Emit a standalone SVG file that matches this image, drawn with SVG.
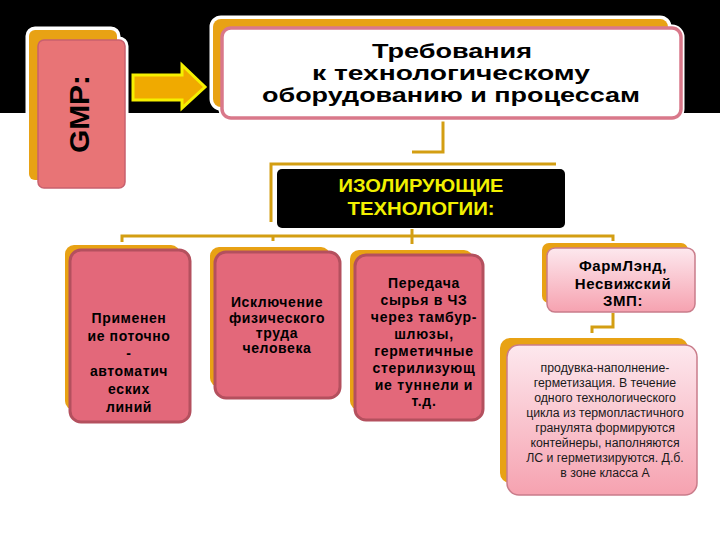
<svg xmlns="http://www.w3.org/2000/svg" width="720" height="540" viewBox="0 0 720 540">
<defs>
<linearGradient id="lp" x1="0" y1="0" x2="0" y2="1">
<stop offset="0" stop-color="#fde8ee"/>
<stop offset="1" stop-color="#f6a2b0"/>
</linearGradient>
<style>
.bk{fill:#e8a214}
.wh{fill:#fff;stroke:#fff;stroke-width:7}
.pk{fill:#e3687a;stroke:#b4505e;stroke-width:3}
.lt{fill:url(#lp);stroke:#c97c8a;stroke-width:1.5}
.t{font-family:"Liberation Sans",Arial,sans-serif;font-weight:bold;fill:#000;text-anchor:middle}
.s{font-family:"Liberation Sans",Arial,sans-serif;fill:#1a1a1a;text-anchor:middle;font-size:12.3px}
.cn{fill:none;stroke:#d39e12;stroke-width:3}
</style>
</defs>
<rect x="0" y="0" width="720" height="540" fill="#fff"/>
<rect x="0" y="0" width="720" height="113" fill="#000"/>

<g id="connectors">
<path class="cn" d="M443,118 V152 H412"/>
<path class="cn" d="M271,222 V164 H556"/>
<path class="cn" d="M122,242 V236 H613 V241"/>
<path class="cn" d="M412,229 V244"/>
<path class="cn" d="M273,236 V241"/>
<path class="cn" d="M613,313 V327 H592 V333"/>
</g>

<g id="gmp">
<rect class="wh" x="29" y="30" width="88" height="150" rx="6"/>
<rect class="wh" x="38" y="40" width="87" height="148" rx="6"/>
<rect class="bk" x="29" y="30" width="88" height="150" rx="6"/>
<rect x="38" y="40" width="87" height="148" rx="6" fill="#e87476" stroke="#c8606e" stroke-width="1.5"/>
<text class="t" transform="translate(89,114) rotate(-90)" font-size="27" textLength="78" lengthAdjust="spacingAndGlyphs">GMP:</text>
</g>

<g id="arrow">
<path d="M133,75 H182 V65 L205,87 L182,108 V100 H133 Z" fill="#f0aa00" stroke="#f5f000" stroke-width="3" stroke-linejoin="miter"/>
</g>

<g id="title">
<rect class="wh" x="213" y="19" width="455" height="88" rx="8"/>
<rect class="wh" x="222" y="28" width="459" height="90" rx="9"/>
<rect class="bk" x="213" y="19" width="455" height="88" rx="8"/>
<rect x="222" y="28" width="459" height="90" rx="9" fill="#fff" stroke="#d9788a" stroke-width="3.5"/>
<text class="t" font-size="21" x="452" y="58" textLength="160" lengthAdjust="spacingAndGlyphs">Требования</text>
<text class="t" font-size="21" x="451" y="80" textLength="278" lengthAdjust="spacingAndGlyphs">к технологическому</text>
<text class="t" font-size="21" x="451" y="102" textLength="378" lengthAdjust="spacingAndGlyphs">оборудованию и процессам</text>
</g>

<g id="isol">
<rect x="277" y="169" width="288" height="59" rx="5" fill="#000"/>
<text class="t" font-size="18" x="421" y="192" style="fill:#f2f000" textLength="165" lengthAdjust="spacingAndGlyphs">ИЗОЛИРУЮЩИЕ</text>
<text class="t" font-size="18" x="421" y="215" style="fill:#f2f000" textLength="147" lengthAdjust="spacingAndGlyphs">ТЕХНОЛОГИИ:</text>
</g>

<g id="box1">
<rect class="bk" x="65" y="245" width="115" height="165" rx="9"/>
<rect class="pk" x="70" y="250" width="120" height="172" rx="11"/>
<g class="t" font-size="14" letter-spacing="0.6">
<text x="129" y="323">Применен</text>
<text x="129" y="341">ие поточно</text>
<text x="129" y="358">-</text>
<text x="129" y="376">автоматич</text>
<text x="129" y="394">еских</text>
<text x="129" y="412">линий</text>
</g>
</g>

<g id="box2">
<rect class="bk" x="210" y="247" width="120" height="140" rx="9"/>
<rect class="pk" x="215" y="252" width="125" height="146" rx="11"/>
<g class="t" font-size="14" letter-spacing="0.6">
<text x="277" y="307">Исключение</text>
<text x="277" y="323">физического</text>
<text x="277" y="338">труда</text>
<text x="277" y="353">человека</text>
</g>
</g>

<g id="box3">
<rect class="bk" x="350" y="250" width="123" height="160" rx="9"/>
<rect class="pk" x="355" y="255" width="128" height="165" rx="11"/>
<g class="t" font-size="14" letter-spacing="0.7">
<text x="424" y="288">Передача</text>
<text x="424" y="305">сырья в ЧЗ</text>
<text x="424" y="322">через тамбур-</text>
<text x="424" y="339">шлюзы,</text>
<text x="424" y="356">герметичные</text>
<text x="424" y="373">стерилизующ</text>
<text x="424" y="390">ие туннели и</text>
<text x="424" y="406">т.д.</text>
</g>
</g>

<g id="box4">
<rect class="bk" x="542" y="243" width="146" height="60" rx="7"/>
<rect class="lt" x="547" y="248" width="148" height="64" rx="8"/>
<g class="t" font-size="15" letter-spacing="0.6">
<text x="623" y="271">ФармЛэнд,</text>
<text x="623" y="289">Несвижский</text>
<text x="623" y="306">ЗМП:</text>
</g>
</g>

<g id="box5">
<rect class="bk" x="500" y="338" width="188" height="145" rx="10"/>
<rect class="lt" x="507" y="345" width="190" height="150" rx="12"/>
<g class="s">
<text x="605" y="372">продувка-наполнение-</text>
<text x="605" y="387">герметизация. В течение</text>
<text x="605" y="402">одного технологического</text>
<text x="605" y="417">цикла из термопластичного</text>
<text x="605" y="432">гранулята формируются</text>
<text x="605" y="447">контейнеры, наполняются</text>
<text x="605" y="462">ЛС и герметизируются. Д.б.</text>
<text x="605" y="477">в зоне класса А</text>
</g>
</g>
</svg>
